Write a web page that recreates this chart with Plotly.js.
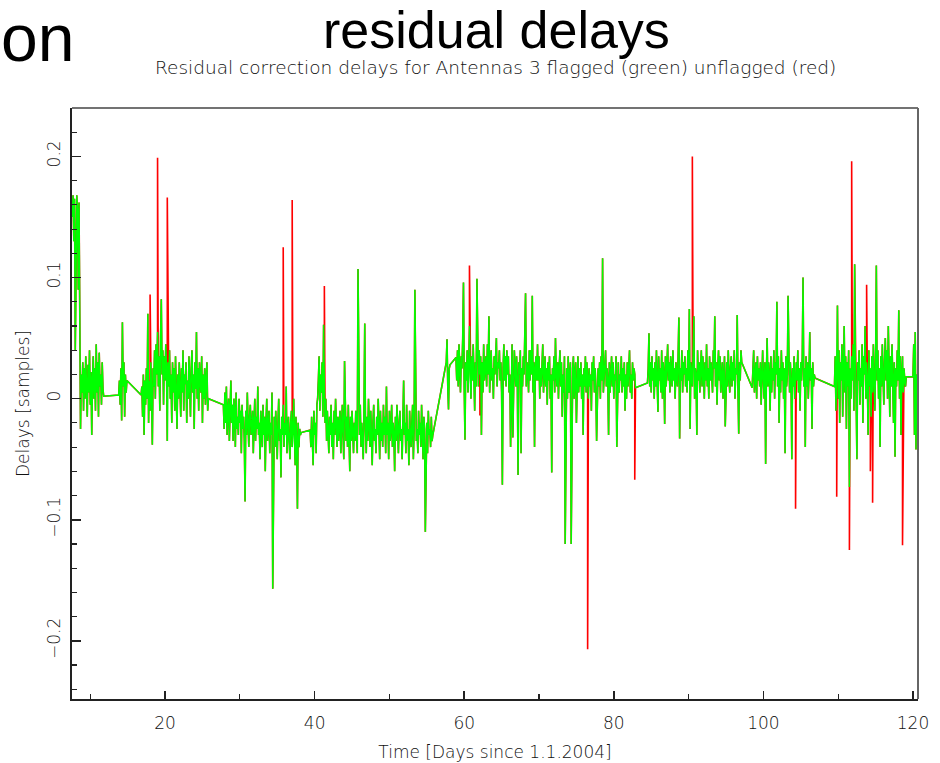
<!DOCTYPE html>
<html>
<head>
<meta charset="utf-8">
<script src="https://cdn.plot.ly/plotly-3.0.1.min.js"></script>
<style>html,body{margin:0;padding:0;background:#fff;}#chart{width:940px;height:763px;}</style>
</head>
<body>
<div id="chart"></div>
<script>
// ---- Data (delays in units of 1e-3 samples) ----
// Observation blocks: start day and sampling step (days)
const segStart = [7.6, 13.8, 16.8, 27.8, 39.4, 57.6, 58.9, 84.5, 98.5, 109.5, 120.0];
const segStep  = [0.1, 0.1, 0.1, 0.1, 0.1, 0.1, 0.1, 0.1, 0.1, 0.1, 0.1];

const segA = [150, 168, 130, 165, 40, 160, 168, 155, 90, 162,
              30, -25, 20, 5, 30, -10, 25, 0, 35, 10,
              -15, 28, 5, 40, -5, 22, -30, 15, 35, 0,
              25, -10, 45, 5, 30, -15, 38, 10, 20, -5,
              30, 8, 2];
const segA2 = [3, 15, -5, 25, -18, 63, 10, 30, -15, 20, 5, 15];
const segB = [3, 10, -15, 20, -30, 15, -5, 25, 0, 70,
              -20, 15, -10, 30, 5, -38, 25, 10, 40, 0,
              45, 20, 55, 10, 35, -10, 50, 82, 20, 40,
              -5, 35, 15, 45, 25, -35, 30, 10, 40, 0,
              20, -20, 30, 5, 25, -10, 35, 15, -25, 20,
              0, 30, 10, -15, 25, 5, 40, -10, 20, 12,
              30, -20, 15, 0, 35, 10, -15, 25, 40, 5,
              20, -25, 30, 8, 55, 0, 25, -10, 30, 15,
              5, 35, -20, 20, 0, 25, -5, 15, 30, -10,
              0];
const segC = [-5, -25, 5, -20, 10, -30, -10, 0, -35, -15,
              15, -20, -5, -35, 0, -10, -40, 5, -25, -15,
              -30, 0, -20, -10, -45, -5, -25, -15, -35, -85,
              -10, -30, 5, -20, -40, -15, -5, -30, -25, -10,
              -45, -20, 0, -35, -15, -25, 10, -30, -20, -50,
              -10, -25, -40, -5, -30, -15, -60, -20, 0, -35,
              -25, -10, -45, -20, -30, 5, -157, -25, -15, -40,
              -10, -30, -50, -20, 0, -35, -25, -65, -15, -30,
              -5, -40, -20, -30, 10, -45, -25, -15, -35, -50,
              -20, -10, -40, -30, 0, -25, -55, -15, -35, -91,
              -20, -40, -25, -30, -28];
const segD = [-26, -40, -15, -35, -55, -10, -30, -20, -45, -5,
              0, 15, 35, -10, 20, 5, 30, -15, 61, 10,
              -20, 0, -35, -10, -25, -45, -15, -30, -5, -40,
              -20, -50, -10, -30, 0, -25, -40, -15, -35, -20,
              -10, -45, -25, -5, -30, -50, 31, -20, -35, -15,
              -40, -5, -25, -60, -15, -35, -10, -30, -45, -20,
              -35, -10, -25, -45, 107, -15, -30, -5, -40, -20,
              -30, -50, -10, 62, -25, -45, -15, -35, 0, -20,
              -40, -10, -30, -55, -20, -5, -35, -25, -45, -15,
              -30, 0, -25, -50, -10, -35, -20, -40, -5, -30,
              -15, -45, 10, -30, -20, -50, -10, -35, -25, -5,
              -40, -20, -30, -60, -15, -35, -5, -25, -45, -20,
              -10, -35, -25, -50, -15, 15, -30, -20, -45, -5,
              -35, -25, -55, -10, -30, -40, -20, -5, -50, -25,
              90, -15, -35, -25, -45, -10, -30, -20, -40, -5,
              -30, -50, -15, -25, -110, -35, -20, -45, -10, -30,
              -25, -40, -15, -35, -30];
const segE0 = [30, 49, 10, -9, 25, 28];
const segE = [34, 15, 40, 10, 45, 20, 5, 35, 25, 50,
              96, 10, -34, 30, 15, 40, 5, 25, 60, 20,
              0, 35, 15, 45, 20, -10, 30, 10, 99, 25,
              10, 40, 20, 35, -30, 30, 5, 45, 15, 25,
              35, 10, 45, 20, 68, 5, 30, 40, 15, 25,
              0, 35, 20, 45, 50, 10, 30, 25, 40, 15,
              30, 5, -71, 25, 45, 15, 35, 10, 40, 20,
              35, 5, 20, -40, 30, 45, -32, 15, 40, 25,
              10, 35, 15, -63, 30, 20, 40, -45, 25, 10,
              35, 20, 45, 87, 10, 30, 25, 5, 40, 15,
              40, 20, 85, 5, 30, -40, 25, 35, 15, 45,
              15, 35, 0, 25, 10, 30, 45, 5, 20, 35,
              10, 25, -5, 30, 15, 35, 0, 20, -61, 25,
              15, 35, 5, 50, 20, 10, 30, 0, 25, 40,
              10, 30, -15, 20, 5, 35, -120, 15, 25, 0,
              35, 5, 20, 30, -120, 10, 25, 35, 0, 20,
              30, -20, 15, 35, 5, 25, 10, 30, 0, 20,
              -30, 25, 10, 35, 5, 30, 15, 0, 25, 10,
              20, -10, 30, 15, 35, 5, 25, 10, -35, 20,
              25, 10, 30, 0, 35, 15, 116, 5, 20, 30,
              40, 10, 25, 15, -30, 30, 5, 20, 35, 10,
              30, 0, 20, 15, 35, -40, 25, 30, 5, 20,
              15, 35, 5, 25, 10, 30, -10, 20, 0, 30,
              10, 25, 40, 5, 20, 0, 30, 15, 25, 20,
              9];
const segF = [13, 25, 54, 10, 30, 5, 35, 15, 25, 0,
              30, 10, 40, 20, -11, 35, 15, 25, 5, 40,
              0, 30, 20, -21, 35, 10, 25, 45, 15, 30,
              5, 35, 20, 10, 40, 15, 25, 0, 30, 20,
              10, 35, 67, -33, 25, 15, 40, 5, 30, 20,
              35, 10, 25, 5, 40, 15, 74, -25, 30, 20,
              10, 35, 68, 0, 25, 20, -30, 40, 15, 30,
              5, 25, 40, 10, 35, 20, 0, 30, 15, 45,
              10, 25, 0, 35, 15, 30, 20, 5, 40, 25,
              68, 10, 30, -5, 25, 40, 15, 35, 5, 20,
              30, 0, 25, 35, -23, 15, 30, 10, 40, 20,
              5, 25, 35, 10, 30, 15, 40, 0, 25, 20,
              69, 10, -29, 30, 15, 40, 30];
const segG = [9, 25, 40, 5, 20, 30, 0, 35, 15, 25,
              10, 30, -5, 25, 40, 15, 0, 30, -54, 20,
              50, 10, 30, 20, -10, 35, 5, 25, 15, 40,
              0, 30, 20, 80, 10, 35, -20, 25, 5, 40,
              15, 30, 0, 25, -45, 35, 10, 20, 85, 40,
              5, 30, 15, -50, 25, 10, 35, 0, 20, 30,
              15, 40, 5, 25, -10, 30, 15, 35, 100, 10,
              25, -40, 35, 10, 30, 0, 20, 55, 15, 25,
              -25, 30, 10, 20, 17];
const segH = [10, 35, -10, 25, 77, 0, 40, -20, 30, 15,
              45, -15, 20, 60, 5, 35, -25, 30, 10, 40,
              -73, 25, 0, 35, 15, 45, -10, 111, 30, 5,
              -50, 30, 15, 40, -5, 25, 10, 45, -20, 35,
              20, 60, 0, 30, 15, -30, 40, 10, 25, -15,
              35, 5, 45, 20, -10, 30, 110, 15, 40, 0,
              25, -40, 35, 10, 45, 20, -5, 30, 50, 15,
              40, 0, 60, 25, -15, 35, 10, 45, 20, -20,
              30, -48, 25, 10, 40, 15, 73, 0, 35, -30,
              20, 35, 5, 25, 15, 10, 18];
const segI = [18, 45, -30, 55, -42, 20, 10];

// Unflagged outliers (red) — day and delay [samples]
const redDays   = [18.0, 19.0, 20.3, 35.8, 37.0, 41.3, 60.7, 62.1, 76.5, 82.8, 90.5, 104.3, 109.8, 111.5, 111.8, 113.8, 114.3, 114.6, 118.6];
const redDelays = [0.086, 0.199, 0.166, 0.125, 0.164, 0.093, 0.110, -0.014, -0.207, -0.067, 0.200, -0.091, -0.081, -0.125, 0.196, 0.094, -0.060, -0.086, -0.121];

// Axis ticks
const xTickVals = [20, 40, 60, 80, 100, 120];
const yTickVals = [-0.2, -0.1, 0, 0.1, 0.2];
const yTickText = ['\u22120.2', '\u22120.1', '0', '0.1', '0.2'];

// ---- Build traces ----
const segValues = [segA, segA2, segB, segC, segD, segE0, segE, segF, segG, segH, segI];
const baseT = [], baseV = [];
segValues.forEach((vals, s) => {
  vals.forEach((v, i) => {
    baseT.push(+(segStart[s] + i * segStep[s]).toFixed(3));
    baseV.push(v / 1000);
  });
});

// red = all data including the unflagged outliers
const redPts = baseT.map((t, i) => ({t: t, v: baseV[i], o: 0}));
redDays.forEach((t, i) => redPts.push({t: t, v: redDelays[i], o: 1}));
redPts.sort((a, b) => a.t - b.t || a.o - b.o);

const tickFont = {family: 'DejaVu Sans', size: 17, color: '#111', weight: 300};

const traces = [
  {x: redPts.map(p => p.t), y: redPts.map(p => p.v), type: 'scatter', mode: 'lines',
   line: {color: '#ff0000', width: 1.6}, hoverinfo: 'skip', showlegend: false},
  {x: baseT, y: baseV, type: 'scatter', mode: 'lines',
   line: {color: '#00ff00', width: 1.5}, hoverinfo: 'skip', showlegend: false}
];

const layout = {
  width: 940, height: 763,
  margin: {l: 72, r: 22, t: 108, b: 64},
  paper_bgcolor: '#fff', plot_bgcolor: '#fff',
  showlegend: false,
  xaxis: {
    range: [7.56, 120.67], tickvals: xTickVals, ticktext: xTickVals.map(String),
    ticks: 'inside', ticklen: 8, tickwidth: 1.5, tickcolor: '#222', ticklabelstandoff: 8,
    showline: true, linecolor: '#222', linewidth: 2, showgrid: false, zeroline: false,
    minor: {tick0: 0, dtick: 10, ticks: 'inside', ticklen: 5, tickwidth: 1.2, tickcolor: '#222', showgrid: false},
    tickfont: tickFont,
    title: {text: 'Time [Days since 1.1.2004]', font: tickFont, standoff: 14}
  },
  yaxis: {
    range: [-0.248, 0.240], tickvals: yTickVals, ticktext: yTickText, tickangle: -90,
    ticks: 'inside', ticklen: 9, tickwidth: 1.5, tickcolor: '#222', ticklabelstandoff: 3,
    showline: true, linecolor: '#222', linewidth: 2, showgrid: false, zeroline: false,
    minor: {tick0: 0, dtick: 0.02, ticks: 'inside', ticklen: 5, tickwidth: 1.2, tickcolor: '#222', showgrid: false},
    tickfont: tickFont,
    title: {text: 'Delays [samples]', font: tickFont, standoff: 10}
  },
  shapes: [
    {type: 'line', xref: 'paper', yref: 'paper', x0: 0, x1: 1, y0: 1, y1: 1, line: {color: '#444', width: 1.5}},
    {type: 'line', xref: 'paper', yref: 'paper', x0: 1, x1: 1, y0: 0, y1: 1, line: {color: '#666', width: 2}}
  ],
  annotations: [
    {text: 'residual delays', xref: 'paper', yref: 'paper', x: 0.502, y: 1.132,
     xanchor: 'center', yanchor: 'middle', showarrow: false,
     font: {family: 'Liberation Sans', size: 52, color: '#000'}},
    {text: 'Residual correction delays for Antennas 3 flagged (green) unflagged (red)',
     xref: 'paper', yref: 'paper', x: 0.5, y: 1.069, xanchor: 'center', yanchor: 'middle',
     showarrow: false, font: {family: 'DejaVu Sans', size: 18.5, color: '#111', weight: 300}},
    {text: 'on', xref: 'paper', yref: 'paper', x: 0.005, y: 1.118, xanchor: 'right', yanchor: 'middle',
     showarrow: false, font: {family: 'Liberation Sans', size: 66, color: '#000'}}
  ]
};

Plotly.newPlot('chart', traces, layout, {staticPlot: true, displayModeBar: false});
</script>
</body>
</html>
